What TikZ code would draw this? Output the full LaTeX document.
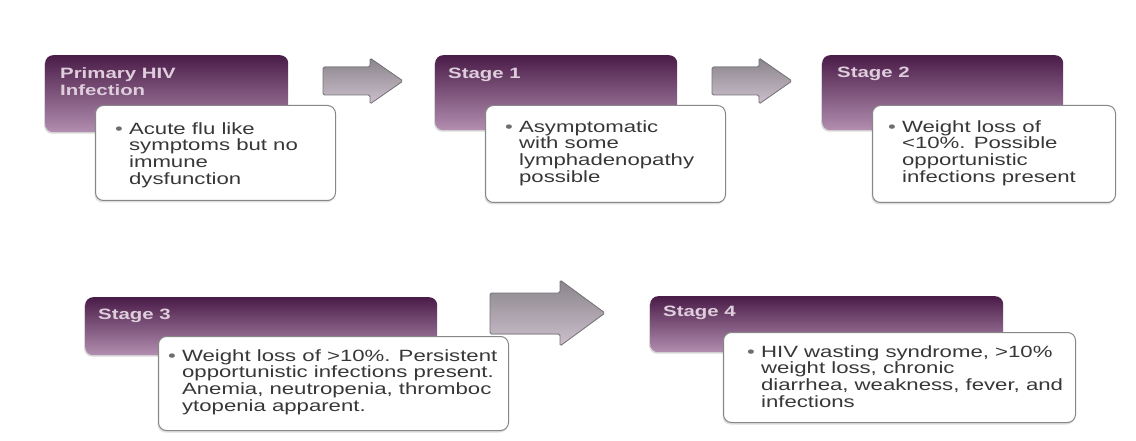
\documentclass[tikz,border=0pt]{standalone}
\usepackage{fontspec}
\setmainfont[FakeStretch=1.36]{Liberation Sans}
\usetikzlibrary{shadows}
\definecolor{plumtop}{RGB}{74,28,72}
\definecolor{plumbot}{RGB}{178,142,176}
\definecolor{titletext}{RGB}{222,206,220}
\definecolor{bodytext}{RGB}{55,55,55}
\definecolor{bulgray}{RGB}{110,110,110}
\definecolor{boxline}{RGB}{135,135,135}
\definecolor{arrtop}{RGB}{138,132,140}
\definecolor{arrbot}{RGB}{204,192,204}
\definecolor{arrline}{RGB}{118,116,120}
\newcommand{\mybul}{\textcolor{bulgray}{\textbullet}\ }
\newcommand{\myind}{\hphantom{\textbullet\ }}
\begin{document}
\begin{tikzpicture}[x=1pt,y=-1pt,
  purplebox/.style={anchor=north west, rounded corners=8pt, top color=plumtop, bottom color=plumbot, inner sep=0pt,
    drop shadow={opacity=0.3, shadow xshift=-1pt, shadow yshift=-1.5pt}},
  whitebox/.style={anchor=north west, rounded corners=8pt, fill=white, draw=boxline, line width=1pt, inner sep=0pt,
    drop shadow={opacity=0.25, shadow xshift=-1pt, shadow yshift=-2pt}},
  titletxt/.style={anchor=north west, inner sep=0pt, align=left, text=titletext, font=\fontsize{15}{17}\selectfont\bfseries},
  bodytxt/.style={anchor=north west, inner sep=0pt, align=left, text=bodytext, font=\fontsize{16.3}{16.8}\selectfont},
  blockarrow/.style={top color=arrtop, bottom color=arrbot, draw=arrline, line width=0.8pt, rounded corners=1.5pt}
]
\fill[white] (0,0) rectangle (1136,441);
\useasboundingbox (0,0) rectangle (1136,441);

% arrows
\filldraw[blockarrow] (323,67) -- (370,67) -- (370,58) -- (403,81) -- (370,104) -- (370,95) -- (323,95) -- cycle;
\filldraw[blockarrow] (712,67) -- (759,67) -- (759,58) -- (792,81) -- (759,104) -- (759,95) -- (712,95) -- cycle;
\filldraw[blockarrow] (490,293) -- (560,293) -- (560,280) -- (605,313) -- (560,346) -- (560,334) -- (490,334) -- cycle;

% top row
\node[purplebox, minimum width=243pt, minimum height=77pt] (p1) at (45,55) {};
\node[purplebox, minimum width=242pt, minimum height=75pt] (p2) at (435,55) {};
\node[purplebox, minimum width=241pt, minimum height=75pt] (p3) at (822,55) {};
\node[titletxt] (t1) at ([shift={(15pt,-12pt)}]p1.north west) {Primary HIV\\Infection};
\node[titletxt] (t2) at ([shift={(13pt,-13pt)}]p2.north west) {Stage 1};
\node[titletxt] (t3) at ([shift={(15pt,-12pt)}]p3.north west) {Stage 2};

\node[whitebox, minimum width=240pt, minimum height=95pt] (w1) at (95,105) {};
\node[whitebox, minimum width=240pt, minimum height=97pt] (w2) at (485,105) {};
\node[whitebox, minimum width=243pt, minimum height=97pt] (w3) at (872,105) {};
\node[bodytxt] (b1) at ([shift={(20pt,-17pt)}]w1.north west) {\mybul Acute flu like\\\myind symptoms but no\\\myind immune\\\myind dysfunction};
\node[bodytxt] (b2) at ([shift={(20pt,-15pt)}]w2.north west) {\mybul Asymptomatic\\\myind with some\\\myind lymphadenopathy\\\myind possible};
\node[bodytxt] (b3) at ([shift={(16pt,-15pt)}]w3.north west) {\mybul Weight loss of\\\myind <10\%. Possible\\\myind opportunistic\\\myind infections present};

% bottom row
\node[purplebox, minimum width=352pt, minimum height=58pt] (p4) at (85,297) {};
\node[purplebox, minimum width=353pt, minimum height=56pt] (p5) at (650,296) {};
\node[titletxt] (t4) at ([shift={(13pt,-12pt)}]p4.north west) {Stage 3};
\node[titletxt] (t5) at ([shift={(13pt,-10pt)}]p5.north west) {Stage 4};

\node[whitebox, minimum width=350pt, minimum height=94pt] (w4) at (158,336) {};
\node[whitebox, minimum width=352pt, minimum height=90pt] (w5) at (723,332) {};
\node[bodytxt] (b4) at ([shift={(10pt,-13pt)}]w4.north west) {\mybul Weight loss of >10\%. Persistent\\\myind opportunistic infections present.\\\myind Anemia, neutropenia, thromboc\\\myind ytopenia apparent.};
\node[bodytxt] (b5) at ([shift={(24pt,-13pt)}]w5.north west) {\mybul HIV wasting syndrome, >10\%\\\myind weight loss, chronic\\\myind diarrhea, weakness, fever, and\\\myind infections};
\end{tikzpicture}
\end{document}
